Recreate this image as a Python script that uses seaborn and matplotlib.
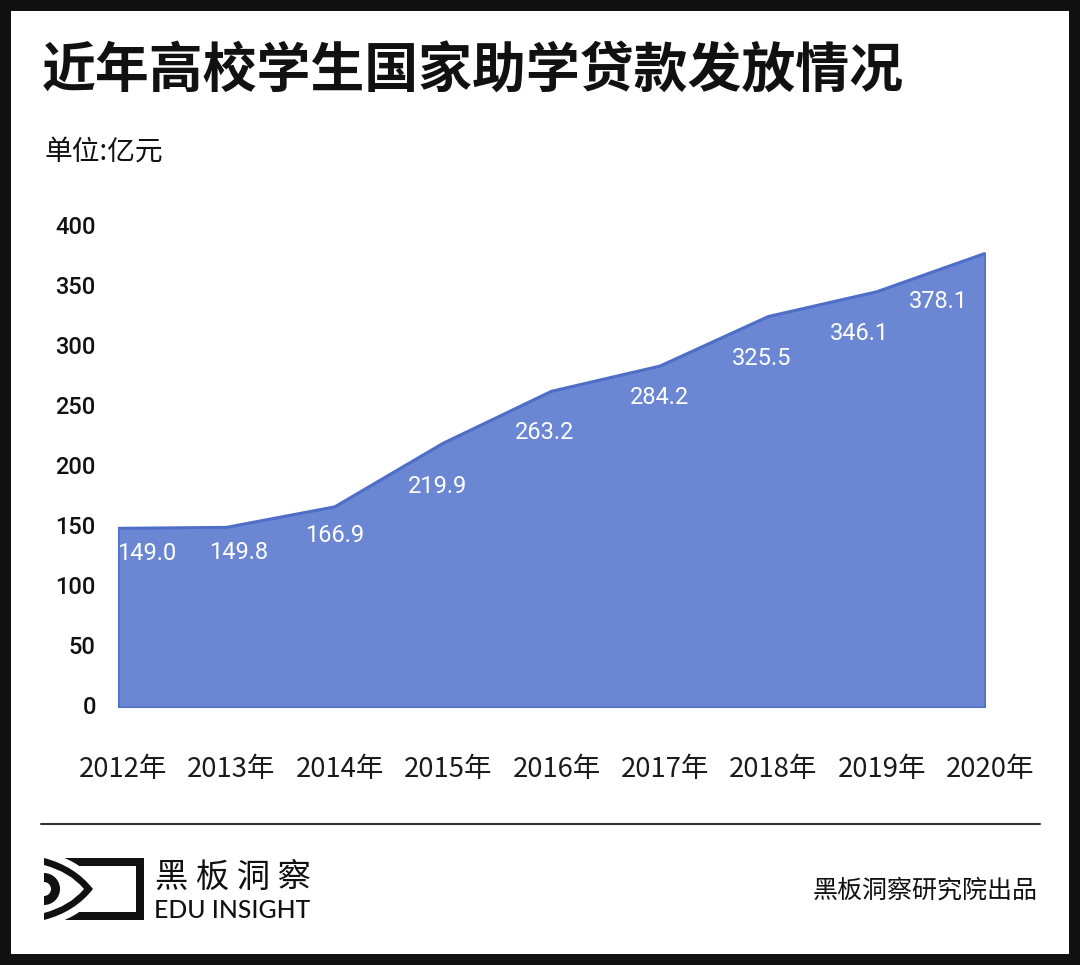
import matplotlib
matplotlib.use("Agg")
import matplotlib.pyplot as plt
import seaborn as sns
import pandas as pd
from matplotlib.patches import Rectangle, PathPatch, Wedge
from matplotlib.path import Path
from matplotlib.transforms import ScaledTranslation

years = ["2012年", "2013年", "2014年", "2015年", "2016年", "2017年", "2018年", "2019年", "2020年"]
loans = [149.0, 149.8, 166.9, 219.9, 263.2, 284.2, 325.5, 346.1, 378.1]
y_ticks = [0, 50, 100, 150, 200, 250, 300, 350, 400]

W, H = 1080, 965
FILL = "#6b86d2"
EDGE = "#4f6ec8"
INK = "#111111"

sns.set_theme(style="white")
plt.rcParams["font.family"] = ["Noto Sans CJK SC", "DejaVu Sans"]

df = pd.DataFrame({"pos": range(len(years)), "loan": loans})

fig = plt.figure(figsize=(W / 100, H / 100), dpi=100, facecolor="white")

# plot area, pixel box 118-985 / 227-707
ax = fig.add_axes([118 / W, 1 - 707 / H, (985 - 118) / W, (707 - 227) / H])
ax.fill_between(df["pos"], 0, df["loan"], facecolor=FILL, edgecolor=EDGE, linewidth=1.5)
sns.lineplot(data=df, x="pos", y="loan", color=EDGE, linewidth=2, ax=ax)
ax.set_xlim(0, len(years) - 1)
ax.set_ylim(0, 400)
ax.patch.set_alpha(0)
sns.despine(ax=ax, left=True, bottom=True)
ax.set_xlabel("")
ax.set_ylabel("")
ax.set_xticks(df["pos"], years)
ax.set_yticks(y_ticks)
ax.tick_params(axis="x", length=0, pad=35.5, labelsize=19.8, labelcolor="#1a1a1a")
ax.tick_params(axis="y", length=0, pad=16, labelsize=17, labelcolor=INK)
up = ScaledTranslation(0, 1.5 / 100, fig.dpi_scale_trans)
for lab in ax.get_yticklabels():
    lab.set_fontfamily("Roboto")
    lab.set_fontweight("medium")
    lab.set_transform(lab.get_transform() + up)
shift = ScaledTranslation(5 / 100, 0, fig.dpi_scale_trans)
for lab in ax.get_xticklabels():
    lab.set_transform(lab.get_transform() + shift)

# value labels sit under the line, nudged to stay inside the area
nudge_x = [29, 12, 0, -6, -7, 0, -7, -17, -47]
nudge_y = [-25, -25, -29, -43, -41, -32, -42, -42, -48]
for i, v in enumerate(loans):
    ax.annotate(f"{v:.1f}", (i, v), xytext=(nudge_x[i], nudge_y[i]), textcoords="offset pixels",
                ha="center", va="center", color="white", fontsize=17,
                fontfamily="Roboto", annotation_clip=False)

# overlay in image pixels for the page furniture
page = fig.add_axes([0, 0, 1, 1], facecolor="none")
page.set_xlim(0, W)
page.set_ylim(H, 0)
page.axis("off")

page.text(42, 72, "近年高校学生国家助学贷款发放情况", fontsize=38.8, fontweight="bold", color=INK, ha="left", va="center")
page.text(44, 152, "单位:亿元", fontsize=20, color=INK, ha="left", va="center")
page.plot([41, 1040], [824, 824], color="#333333", lw=1.5)
page.text(1038, 891, "黑板洞察研究院出品", fontsize=18, color=INK, ha="right", va="center")

# outer frame
for box in [(0, 0, W, 11), (0, H - 11, W, 11), (0, 0, 11, H), (W - 11, 0, 11, H)]:
    page.add_patch(Rectangle(box[:2], box[2], box[3], color=INK, lw=0))

# logo
page.add_patch(Rectangle((44, 858), 100, 62, color=INK, lw=0))
page.add_patch(Rectangle((44, 866), 92, 46, color="white", lw=0))
C3 = Path.CURVE3
halo = Path([(62, 857), (86, 866), (102, 889), (86, 912), (62, 921), (44, 921), (44, 857), (62, 857)],
            [Path.MOVETO, C3, C3, C3, C3, Path.LINETO, Path.LINETO, Path.CLOSEPOLY])
page.add_patch(PathPatch(halo, fc="white", ec="none"))
eye = Path([(44, 858), (75, 866), (93, 889), (75, 912), (44, 920), (44, 913), (70, 906), (84, 889),
            (70, 872), (44, 865), (44, 858)],
           [Path.MOVETO, C3, C3, C3, C3, Path.LINETO, C3, C3, C3, C3, Path.CLOSEPOLY])
page.add_patch(PathPatch(eye, fc=INK, ec="none"))
page.add_patch(Wedge((44, 889), 16, -90, 90, width=9, fc=INK, ec="none"))
page.text(233, 877, "黑 板 洞 察", fontsize=24, fontweight="medium", color=INK, ha="center", va="center")
page.text(154, 910, "EDU INSIGHT", fontsize=17.8, fontfamily="Lato", fontweight="medium", color=INK, ha="left", va="center")

fig.savefig("out.png", dpi=100)
